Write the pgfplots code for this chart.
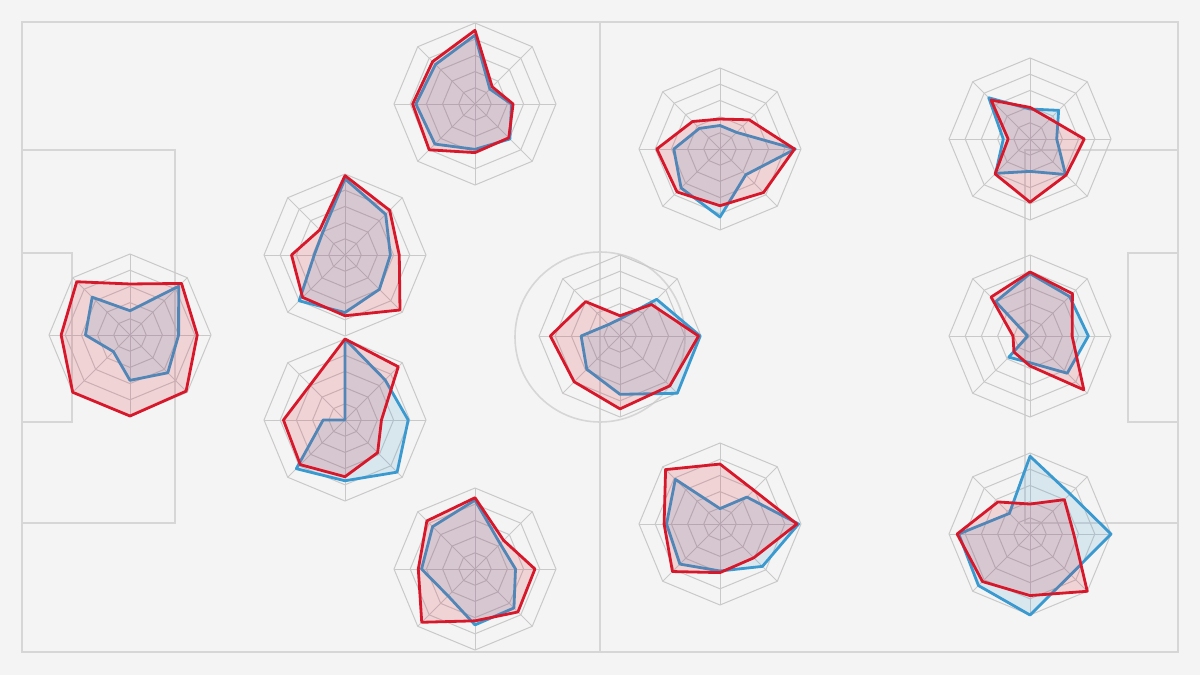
\documentclass[border=0pt]{standalone}
\usepackage{pgfplots}
\usepackage{pgfplotstable}
\pgfplotsset{compat=1.18}
\definecolor{bg}{HTML}{F4F4F4}
\definecolor{pitch}{HTML}{D6D6D6}
\definecolor{gridc}{HTML}{C9C9C9}
\definecolor{redc}{HTML}{D7182A}
\definecolor{bluec}{HTML}{3A9AD0}

% columns: k = axis index (0 top, clockwise), r = red series, b = blue series
\pgfplotstableread{
k r b
0 0.63 0.30
1 0.90 0.85
2 0.83 0.60
3 0.98 0.66
4 1.00 0.56
5 1.00 0.29
6 0.85 0.55
7 0.93 0.66
}\tA
\pgfplotstableread{
k r b
0 0.98 0.94
1 0.78 0.71
2 0.67 0.56
3 0.96 0.60
4 0.75 0.71
5 0.74 0.80
6 0.66 0.38
7 0.44 0.39
}\tB
\pgfplotstableread{
k r b
0 1.00 1.00
1 0.93 0.70
2 0.45 0.78
3 0.57 0.91
4 0.70 0.75
5 0.78 0.85
6 0.76 0.27
7 0.61 0.00
}\tC
\pgfplotstableread{
k r b
0 0.91 0.85
1 0.30 0.26
2 0.47 0.45
3 0.59 0.61
4 0.60 0.56
5 0.80 0.70
6 0.77 0.73
7 0.74 0.69
}\tD
\pgfplotstableread{
k r b
0 0.88 0.85
1 0.50 0.44
2 0.74 0.50
3 0.75 0.68
4 0.64 0.69
5 0.93 0.47
6 0.70 0.66
7 0.84 0.74
}\tE
\pgfplotstableread{
k r b
0 0.25 0.21
1 0.55 0.64
2 0.97 0.99
3 0.87 1.00
4 0.90 0.72
5 0.80 0.58
6 0.86 0.48
7 0.60 0.20
}\tF
\pgfplotstableread{
k r b
0 0.37 0.29
1 0.51 0.29
2 0.92 0.93
3 0.76 0.45
4 0.70 0.84
5 0.75 0.68
6 0.78 0.57
7 0.48 0.36
}\tG
\pgfplotstableread{
k r b
0 0.74 0.19
1 0.59 0.47
2 0.95 0.97
3 0.59 0.74
4 0.60 0.58
5 0.83 0.70
6 0.69 0.66
7 0.95 0.78
}\tH
\pgfplotstableread{
k r b
0 0.39 0.37
1 0.35 0.50
2 0.67 0.33
3 0.63 0.62
4 0.78 0.40
5 0.61 0.60
6 0.27 0.33
7 0.68 0.72
}\tI
\pgfplotstableread{
k r b
0 0.79 0.77
1 0.74 0.69
2 0.52 0.72
3 0.94 0.65
4 0.37 0.33
5 0.28 0.37
6 0.21 0.03
7 0.68 0.60
}\tJ
\pgfplotstableread{
k r b
0 0.37 0.96
1 0.60 0.70
2 0.54 1.00
3 1.00 0.71
4 0.76 1.00
5 0.83 0.90
6 0.90 0.88
7 0.56 0.36
}\tK

\def\R{81}
\newcommand\radargrid[2]{%
  \pgfplotsinvokeforeach{1,2,3,4,5}{%
    \draw[gridc, line width=0.5pt]
      (axis cs:{#1},{#2-16.2*##1}) --
      (axis cs:{#1+11.455*##1},{#2-11.455*##1}) --
      (axis cs:{#1+16.2*##1},{#2}) --
      (axis cs:{#1+11.455*##1},{#2+11.455*##1}) --
      (axis cs:{#1},{#2+16.2*##1}) --
      (axis cs:{#1-11.455*##1},{#2+11.455*##1}) --
      (axis cs:{#1-16.2*##1},{#2}) --
      (axis cs:{#1-11.455*##1},{#2-11.455*##1}) -- cycle;
  }%
  \draw[gridc, line width=0.5pt] (axis cs:{#1},{#2-81}) -- (axis cs:{#1},{#2+81});
  \draw[gridc, line width=0.5pt] (axis cs:{#1-81},{#2}) -- (axis cs:{#1+81},{#2});
  \draw[gridc, line width=0.5pt] (axis cs:{#1-57.276},{#2-57.276}) -- (axis cs:{#1+57.276},{#2+57.276});
  \draw[gridc, line width=0.5pt] (axis cs:{#1-57.276},{#2+57.276}) -- (axis cs:{#1+57.276},{#2-57.276});
}
\newcommand\radar[3]{%
  \radargrid{#1}{#2}%
  \addplot[bluec, line width=1.4pt, line join=round, fill=bluec, fill opacity=0.15]
    table[x expr={#1+\R*\thisrow{b}*sin(45*\thisrow{k})},
          y expr={#2-\R*\thisrow{b}*cos(45*\thisrow{k})}] {#3} -- cycle;
  \addplot[redc, line width=1.4pt, line join=round, fill=redc, fill opacity=0.15]
    table[x expr={#1+\R*\thisrow{r}*sin(45*\thisrow{k})},
          y expr={#2-\R*\thisrow{r}*cos(45*\thisrow{k})}] {#3} -- cycle;
}

\begin{document}
\begin{tikzpicture}
\begin{axis}[
  scale only axis, width=600pt, height=337.5pt,
  xmin=0, xmax=1200, ymin=0, ymax=675, y dir=reverse,
  hide axis, no markers, clip=true]
% background
\addplot[draw=none, fill=bg] coordinates {(0,0) (1200,0) (1200,675) (0,675)} -- cycle;
% pitch
\draw[pitch, line width=0.8pt] (axis cs:22,22) rectangle (axis cs:1178,652);
\draw[pitch, line width=0.8pt] (axis cs:600,22) -- (axis cs:600,652);
\draw[pitch, line width=0.8pt] (axis cs:600,337) circle [radius=42.5pt];
\draw[pitch, line width=0.8pt] (axis cs:22,150) rectangle (axis cs:175,523);
\draw[pitch, line width=0.8pt] (axis cs:22,253) rectangle (axis cs:72,422);
\draw[pitch, line width=0.8pt] (axis cs:1025,150) rectangle (axis cs:1178,523);
\draw[pitch, line width=0.8pt] (axis cs:1128,253) rectangle (axis cs:1178,422);
% radars
\radar{130}{335}{\tA}
\radar{345}{255}{\tB}
\radar{345}{420}{\tC}
\radar{475}{104}{\tD}
\radar{475}{569}{\tE}
\radar{620}{336}{\tF}
\radar{720}{149}{\tG}
\radar{720}{524}{\tH}
\radar{1030}{139}{\tI}
\radar{1030}{336}{\tJ}
\radar{1030}{534}{\tK}
\end{axis}
\end{tikzpicture}
\end{document}
